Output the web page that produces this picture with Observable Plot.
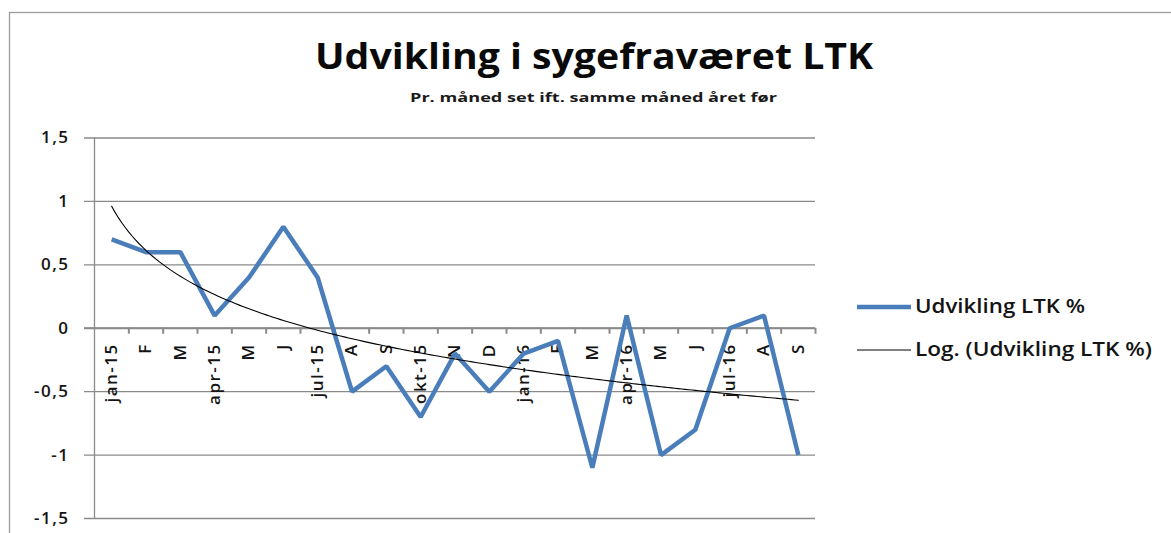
<!DOCTYPE html>
<html>
<head>
<meta charset="utf-8">
<script src="https://cdn.jsdelivr.net/npm/d3@7"></script>
<script src="https://cdn.jsdelivr.net/npm/@observablehq/plot@0.6"></script>
<style>
  html, body { margin: 0; padding: 0; background: #fff; }
  #wrap { position: relative; width: 1171px; height: 533px; overflow: hidden; background: #fff; }
  #overlay { position: absolute; left: 0; top: 0; pointer-events: none; }
  #chart { position: absolute; left: 0; top: 0; }
</style>
</head>
<body>
<div id="wrap">
  <div id="chart"></div>
  <svg id="overlay" width="1171" height="533" font-family="'Open Sans', Lato, sans-serif"></svg>
</div>
<script>
// ---- data ----
const months = ["jan-15","F","M","apr-15","M","J","jul-15","A","S","okt-15","N","D",
                "jan-16","F","M","apr-16","M","J","jul-16","A","S"];
const values = [0.7, 0.6, 0.6, 0.1, 0.4, 0.8, 0.4, -0.5, -0.3, -0.7, -0.2, -0.5,
                -0.2, -0.1, -1.1, 0.1, -1.0, -0.8, 0.0, 0.1, -1.0];
const yTicks = [-1.5, -1, -0.5, 0, 0.5, 1, 1.5];
const yTickLabels = ["-1,5", "-1", "-0,5", "0", "0,5", "1", "1,5"];
const titleText = "Udvikling i sygefraværet LTK";
const subtitleText = "Pr. måned set ift. samme måned året før";
const seriesName = "Udvikling LTK %";
const trendName = "Log. (Udvikling LTK %)";

// ---- table ----
const rows = values.map((v, i) => ({i: i + 1, month: months[i], v}));

// Excel "Log." trendline: least-squares fit of y = a*ln(x) + b over the data
const lnX = rows.map(d => Math.log(d.i));
const mL = d3.mean(lnX), mY = d3.mean(values);
const a = d3.sum(lnX, (l, k) => (l - mL) * (values[k] - mY)) / d3.sum(lnX, l => (l - mL) ** 2);
const b = mY - a * mL;
const trend = d3.range(1, values.length + 1e-9, 0.1).map(x => ({x, y: a * Math.log(x) + b}));

const boundaries = d3.range(0, values.length + 1).map(k => k + 0.5);

const blue = "#4a7ebb";
const grid = "#8a8a8a";
const ink = "#141414";

const plot = Plot.plot({
  width: 1171,
  height: 533,
  marginTop: 137.5,
  marginBottom: 15,
  marginLeft: 94,
  marginRight: 356,
  style: {fontFamily: "'Open Sans', Lato, sans-serif", fontSize: "17px", fontWeight: 600, letterSpacing: "1.5px", color: ink, background: "transparent"},
  x: {type: "linear", domain: [0.5, values.length + 0.5], axis: null},
  y: {domain: [-1.5, 1.5], axis: null},
  marks: [
    Plot.ruleY(yTicks, {stroke: grid, strokeWidth: 1.3, insetLeft: -10}),
    Plot.ruleY([0], {stroke: grid, strokeWidth: 2.2, insetLeft: -10}),
    Plot.ruleX([0.5], {stroke: grid, strokeWidth: 1.3}),
    Plot.ruleX(boundaries.slice(1), {y1: 0, y2: 0, insetBottom: -6, stroke: grid, strokeWidth: 2}),
    Plot.axisY(yTicks, {tickSize: 0, tickPadding: 25, tickFormat: (d) => yTickLabels[yTicks.indexOf(d)], fontSize: 17}),
    Plot.text(rows, {x: "i", y: () => 0, text: "month", rotate: -90, textAnchor: "end", dy: 15, dx: 0, fontSize: 17, fill: ink}),
    Plot.line(rows, {x: "i", y: "v", stroke: blue, strokeWidth: 4.5, strokeLinejoin: "miter", strokeLinecap: "butt"}),
    Plot.line(trend, {x: "x", y: "y", stroke: "#000", strokeWidth: 1.1})
  ]
});
document.getElementById("chart").appendChild(plot);

// ---- overlay: frame, title, subtitle, legend ----
const ov = d3.select("#overlay");
ov.append("rect").attr("x", 9.5).attr("y", 12.5).attr("width", 1400).attr("height", 700)
  .attr("fill", "none").attr("stroke", "#9c9c9c").attr("stroke-width", 1.3);

ov.append("text").attr("x", 315).attr("y", 69).attr("font-size", 36).attr("font-weight", 700)
  .attr("fill", "#0a0a0a").attr("textLength", 558).attr("lengthAdjust", "spacingAndGlyphs").text(titleText);
ov.append("text").attr("x", 410).attr("y", 102).attr("font-size", 13).attr("font-weight", 700)
  .attr("fill", "#1a1a1a").attr("textLength", 367).attr("lengthAdjust", "spacingAndGlyphs").text(subtitleText);

const legend = [
  {name: seriesName, color: blue, width: 4.5, y: 307, textY: 313, len: 170},
  {name: trendName, color: "#000", width: 1.1, y: 350, textY: 356, len: 237}
];
legend.forEach(l => {
  ov.append("line").attr("x1", 857).attr("x2", 911).attr("y1", l.y).attr("y2", l.y)
    .attr("stroke", l.color).attr("stroke-width", l.width);
  ov.append("text").attr("x", 915).attr("y", l.textY).attr("font-size", 19).attr("font-weight", 600).attr("fill", ink)
    .attr("textLength", l.len).attr("lengthAdjust", "spacingAndGlyphs").text(l.name);
});
</script>
</body>
</html>
